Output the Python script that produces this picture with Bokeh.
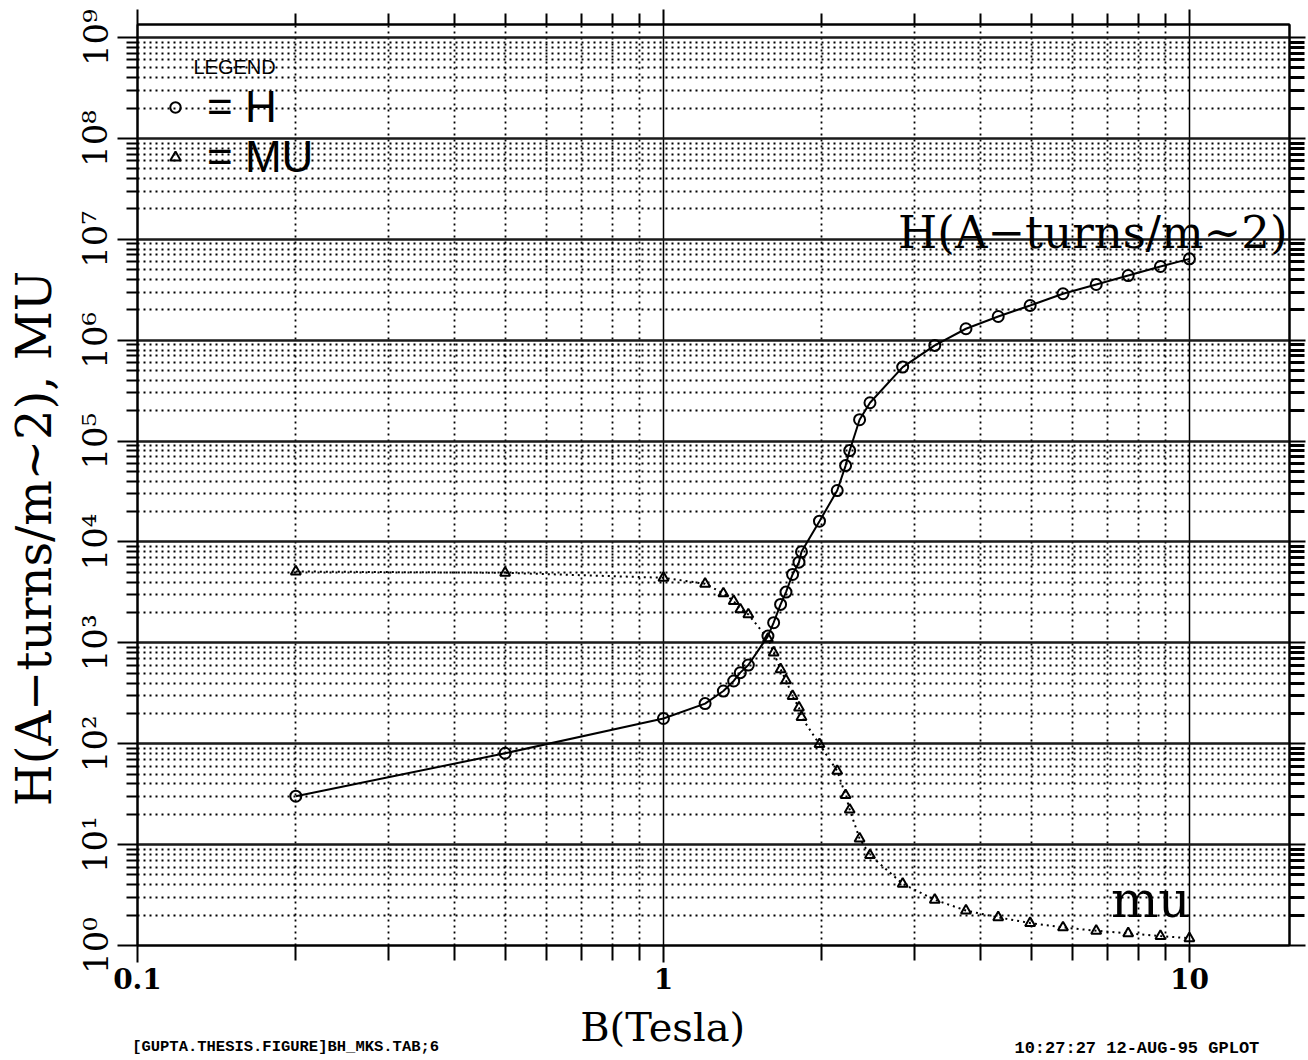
import math
from bokeh.plotting import figure
from bokeh.models import (LogAxis, FixedTicker, CustomJSTickFormatter, Label,
                          Legend, LegendItem, Range1d)
from bokeh.embed import file_html
from bokeh.resources import INLINE

# ---------------- data ----------------
B_TESLA = [0.2, 0.5, 1.0, 1.2, 1.3, 1.36, 1.4, 1.45, 1.58, 1.62, 1.67, 1.71,
           1.76, 1.81, 1.83, 1.98, 2.14, 2.22, 2.26, 2.36, 2.47, 2.85, 3.28,
           3.76, 4.33, 4.98, 5.75, 6.65, 7.65, 8.81, 10.0]
H_AT_M = [30.2, 80.5, 178, 250, 333, 419, 507, 603, 1167, 1585, 2405, 3185,
          4765, 6310, 8000, 16070, 32360, 57200, 80600, 163000, 240000,
          542000, 889000, 1.30e6, 1.72e6, 2.21e6, 2.89e6, 3.57e6, 4.38e6,
          5.38e6, 6.41e6]
MU_REL = [5100, 4950, 4420, 3855, 3090, 2594, 2146, 1915, 1100, 800, 547, 425,
          297, 228, 184, 98.9, 53.7, 30.9, 22.2, 11.5, 7.85, 4.09, 2.84, 2.22,
          1.90, 1.67, 1.51, 1.40, 1.32, 1.24, 1.18]

X_MAJOR = [0.1, 1, 10]
X_MINOR = [m * d for d in (0.1, 1) for m in range(2, 10)]
Y_MAJOR = [10 ** k for k in range(0, 10)]
Y_MINOR = [m * 10 ** k for k in range(0, 9) for m in range(2, 10)]

X_START, X_END = 0.1, 15.5
Y_START, Y_END = 1, 10 ** 9.13

X_TITLE = "B(Tesla)"
Y_TITLE = "H(A\u2212turns/m~2), MU"
H_NOTE = "H(A\u2212turns/m~2)"
MU_NOTE = "mu"
FILE_TAG = "[GUPTA.THESIS.FIGURE]BH_MKS.TAB;6"
STAMP = "10:27:27 12-AUG-95 GPLOT"

SERIF = "DejaVu Serif"
NB = "\u00a0"

p = figure(width=1308, height=1060, x_axis_type="log", y_axis_type="log",
           x_range=Range1d(X_START, X_END), y_range=Range1d(Y_START, Y_END),
           output_backend="svg", toolbar_location=None,
           min_border_left=137, min_border_right=19, min_border_top=24,
           min_border_bottom=113, background_fill_color="white",
           border_fill_color="white")
p.outline_line_color = "black"
p.outline_line_width = 2

xt = FixedTicker(ticks=X_MAJOR, minor_ticks=X_MINOR)
yt = FixedTicker(ticks=Y_MAJOR, minor_ticks=Y_MINOR)
no_ticks = FixedTicker(ticks=[], minor_ticks=[])

xfmt = CustomJSTickFormatter(code="return tick < 1 ? tick.toFixed(1) : tick.toFixed(0);")
yfmt = CustomJSTickFormatter(code="""
const sup = ['\\u2070','\\u00b9','\\u00b2','\\u00b3','\\u2074','\\u2075','\\u2076','\\u2077','\\u2078','\\u2079'];
const e = Math.round(Math.log10(tick));
return '10' + sup[e];
""")
blank = CustomJSTickFormatter(code="return '';")

# bottom axis (ticks, tick labels and the x title)
xa = p.xaxis[0]
xa.ticker = xt
xa.formatter = xfmt
xa.major_tick_in = 0
xa.minor_tick_in = 0
xa.major_tick_out = 17
xa.minor_tick_out = 15
xa.major_tick_line_width = 2
xa.minor_tick_line_width = 2
xa.axis_line_width = 2
xa.major_label_standoff = 5
xa.major_label_text_font = SERIF
xa.major_label_text_font_style = "bold"
xa.major_label_text_font_size = "28px"
xa.major_label_text_color = "black"
xa.axis_label = X_TITLE + NB * 8
xa.axis_label_standoff = 12
xa.axis_label_text_font = SERIF
xa.axis_label_text_font_style = "normal"
xa.axis_label_text_font_size = "40px"
xa.axis_label_text_color = "black"

# left axis (ticks, tick labels and the y title)
ya = p.yaxis[0]
ya.ticker = yt
ya.formatter = yfmt
ya.major_tick_in = 0
ya.minor_tick_in = 0
ya.major_tick_out = 20
ya.minor_tick_out = 11
ya.major_tick_line_width = 2
ya.minor_tick_line_width = 2
ya.axis_line_width = 2
ya.major_label_standoff = 2
ya.major_label_orientation = "parallel"
ya.major_label_text_font = SERIF
ya.major_label_text_font_size = "34px"
ya.major_label_text_color = "black"
ya.axis_label = Y_TITLE + NB * 7
ya.axis_label_standoff = 11
ya.axis_label_text_font = SERIF
ya.axis_label_text_font_style = "normal"
ya.axis_label_text_font_size = "48px"
ya.axis_label_text_color = "black"

# top and right axes (ticks only)
top = LogAxis(ticker=xt, formatter=blank, major_tick_in=0, minor_tick_in=0,
              major_tick_out=15, minor_tick_out=11, major_tick_line_width=2,
              minor_tick_line_width=2, axis_line_width=2,
              major_label_text_font_size="0px", major_label_standoff=0)
right = LogAxis(ticker=yt, formatter=blank, major_tick_in=0, minor_tick_in=0,
                major_tick_out=16, minor_tick_out=15, major_tick_line_width=2,
                minor_tick_line_width=3, axis_line_width=2,
                major_label_text_font_size="0px", major_label_standoff=0)
p.add_layout(top, "above")
p.add_layout(right, "right")

# footer strings, carried by tick-less axes below the main one
def footer_axis(text, standoff, size):
    return LogAxis(ticker=no_ticks, formatter=blank, axis_line_color=None,
                   major_tick_out=0, minor_tick_out=0, major_tick_in=0,
                   minor_tick_in=0, major_label_standoff=0,
                   major_label_text_font_size="0px",
                   axis_label=text, axis_label_standoff=standoff,
                   axis_label_text_font="Liberation Mono",
                   axis_label_text_font_style="bold",
                   axis_label_text_font_size=size,
                   axis_label_text_color="black")

p.add_layout(footer_axis(FILE_TAG + NB * 92, -15, "15.5px"), "below")
p.add_layout(footer_axis(NB * 83 + STAMP.replace(" ", NB), -20, "17px"), "below")

# grids
p.xgrid.ticker = xt
p.ygrid.ticker = yt
p.xgrid.grid_line_color = "black"
p.xgrid.grid_line_width = 1.5
p.xgrid.minor_grid_line_color = "black"
p.xgrid.minor_grid_line_width = 1.8
p.xgrid.minor_grid_line_dash = "2 4"
p.ygrid.grid_line_color = "#1a1a1a"
p.ygrid.grid_line_width = 2.5
p.ygrid.minor_grid_line_color = "black"
p.ygrid.minor_grid_line_width = 1.8
p.ygrid.minor_grid_line_dash = "2 4"

# data
p.line(B_TESLA, H_AT_M, line_color="black", line_width=2)
p.line(B_TESLA, MU_REL, line_color="black", line_width=2, line_dash="2 4")
h_pts = p.scatter(B_TESLA, H_AT_M, marker="circle", size=11, fill_color=None,
                  line_color="black", line_width=2)
mu_pts = p.scatter(B_TESLA, MU_REL, marker="triangle", size=10, fill_color=None,
                   line_color="black", line_width=2)

legend = Legend(items=[LegendItem(label="= H", renderers=[h_pts]),
                       LegendItem(label="= MU", renderers=[mu_pts])],
                location=(25, 763), padding=0, spacing=0, margin=0,
                glyph_width=26, glyph_height=26, label_standoff=19,
                label_text_font="Liberation Sans", label_text_font_size="44px",
                label_text_color="black",
                background_fill_alpha=0, border_line_alpha=0)
p.add_layout(legend)

def lab(text, x, y, size, font=SERIF, align="left", baseline="middle"):
    p.add_layout(Label(text=text, x=x, y=y, x_units="screen", y_units="screen",
                       text_font=font, text_font_size=size,
                       text_align=align, text_baseline=baseline,
                       text_color="black"))

lab("LEGEND", 56, 879, "20px", font="Liberation Sans")
lab(H_NOTE, 1150, 713, "45px", align="right")
lab(MU_NOTE, 1053, 46, "50px", align="right")

open("out.html", "w").write(file_html(p, INLINE))
